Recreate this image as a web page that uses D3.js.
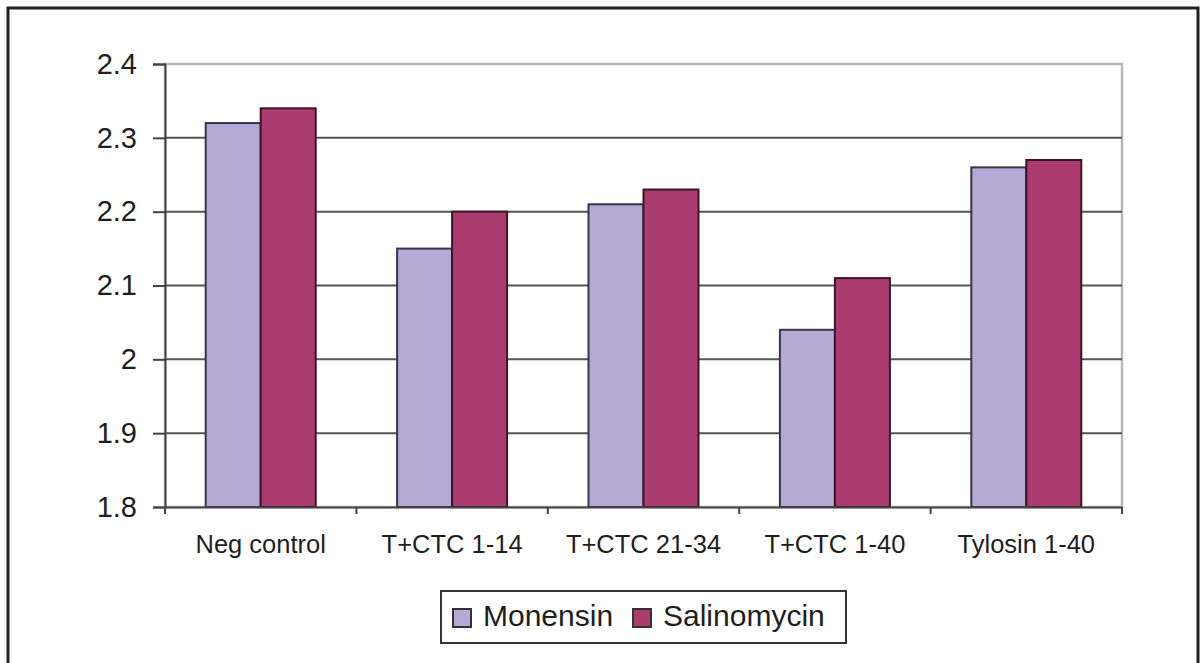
<!DOCTYPE html>
<html>
<head>
<meta charset="utf-8">
<script src="https://cdn.jsdelivr.net/npm/d3@7"></script>
<style>
  html, body { margin: 0; padding: 0; background: #fff; }
  svg { display: block; }
  text { font-family: "Liberation Sans", Arial, Helvetica, sans-serif; fill: #1e1e1e; }
</style>
</head>
<body>
<svg id="chart" width="1200" height="663"></svg>
<script>
// Treatment groups along the x axis
const categories = ["Neg control", "T+CTC 1-14", "T+CTC 21-34", "T+CTC 1-40", "Tylosin 1-40"];
// Ionophore series
const seriesNames = ["Monensin", "Salinomycin"];
const monensin    = [2.32, 2.15, 2.21, 2.04, 2.26];
const salinomycin = [2.34, 2.20, 2.23, 2.11, 2.27];
// Y axis ticks
const yTicks = [1.8, 1.9, 2.0, 2.1, 2.2, 2.3, 2.4];
const yTickLabels = ["1.8", "1.9", "2", "2.1", "2.2", "2.3", "2.4"];

const seriesValues = [monensin, salinomycin];
const fills = ["#b4aad5", "#aa3c70"];
const strokes = ["#3a3448", "#3c1428"];

const svg = d3.select("#chart");
const W = 1200, H = 663;
const plot = { left: 165, right: 1122, top: 64, bottom: 507 };

svg.append("rect").attr("width", W).attr("height", H).attr("fill", "#fff");

// Outer frame
svg.append("rect")
  .attr("x", 8).attr("y", 8).attr("width", 1190).attr("height", 700)
  .attr("fill", "none").attr("stroke", "#222").attr("stroke-width", 3);

const y = d3.scaleLinear().domain([1.8, 2.4]).range([plot.bottom, plot.top]);
const x0 = d3.scaleBand().domain(categories).range([plot.left, plot.right]).padding(0);
const x1 = d3.scaleBand().domain(seriesNames).range([0, x0.bandwidth()])
  .paddingInner(0).paddingOuter(0.74);

// Plot area border (top and right show as light gray)
svg.append("rect")
  .attr("x", plot.left).attr("y", plot.top)
  .attr("width", plot.right - plot.left).attr("height", plot.bottom - plot.top)
  .attr("fill", "none").attr("stroke", "#b8b8b8").attr("stroke-width", 2.5);

// Horizontal gridlines
svg.append("g")
  .selectAll("line")
  .data(yTicks.filter(v => v > 1.8 && v < 2.4))
  .join("line")
  .attr("x1", plot.left).attr("x2", plot.right)
  .attr("y1", d => y(d)).attr("y2", d => y(d))
  .attr("stroke", "#555").attr("stroke-width", 2);

// Bars
const groups = svg.append("g")
  .selectAll("g")
  .data(categories)
  .join("g")
  .attr("transform", d => `translate(${x0(d)},0)`);

groups.selectAll("rect")
  .data((d, i) => seriesNames.map((s, j) => ({ s, j, v: seriesValues[j][i] })))
  .join("rect")
  .attr("x", d => x1(d.s))
  .attr("y", d => y(d.v))
  .attr("width", x1.bandwidth())
  .attr("height", d => y(1.8) - y(d.v))
  .attr("fill", d => fills[d.j])
  .attr("stroke", d => strokes[d.j])
  .attr("stroke-width", 2);

// Y axis
const yAxis = d3.axisLeft(y)
  .tickValues(yTicks)
  .tickFormat((d, i) => yTickLabels[i])
  .tickSize(12)
  .tickPadding(16);
const gy = svg.append("g").attr("transform", `translate(${plot.left},0)`).call(yAxis);
gy.select(".domain").attr("stroke", "#444").attr("stroke-width", 2);
gy.selectAll(".tick line").attr("stroke", "#444").attr("stroke-width", 2);
gy.selectAll(".tick text")
  .style("font-size", "29px")
  .attr("fill", "#1e1e1e");

// X axis with ticks at category boundaries
const xAxis = d3.axisBottom(x0).tickSize(0).tickPadding(28);
const gx = svg.append("g").attr("transform", `translate(0,${plot.bottom})`).call(xAxis);
gx.select(".domain").attr("stroke", "#444").attr("stroke-width", 2);
gx.selectAll(".tick text").style("font-size", "25.5px").attr("fill", "#1e1e1e");
gx.append("g")
  .selectAll("line")
  .data(categories.map(c => x0(c)).concat([plot.right]))
  .join("line")
  .attr("x1", d => d).attr("x2", d => d)
  .attr("y1", 0).attr("y2", 7)
  .attr("stroke", "#444").attr("stroke-width", 2);

// Legend
const legend = svg.append("g");
legend.append("rect")
  .attr("x", 441).attr("y", 591).attr("width", 405).attr("height", 52)
  .attr("fill", "#fff").attr("stroke", "#333").attr("stroke-width", 2);
const legendX = [453, 633];
seriesNames.forEach((s, j) => {
  legend.append("rect")
    .attr("x", legendX[j]).attr("y", 609).attr("width", 18).attr("height", 18)
    .attr("fill", fills[j]).attr("stroke", "#333").attr("stroke-width", 2);
  legend.append("text")
    .attr("x", legendX[j] + 30).attr("y", 626)
    .style("font-size", "30px")
    .text(s);
});
</script>
</body>
</html>
